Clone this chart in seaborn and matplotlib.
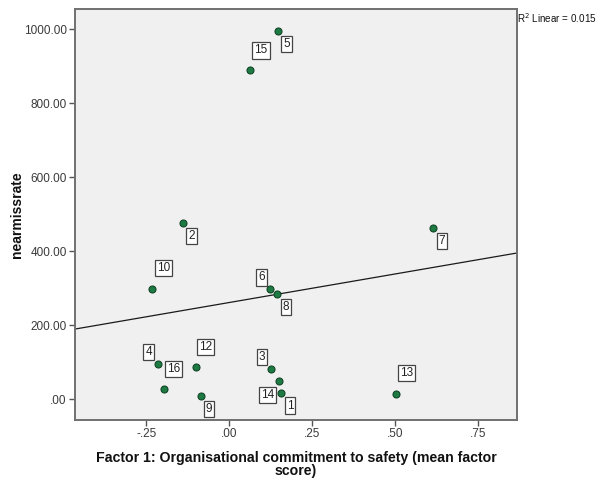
import numpy as np
import pandas as pd
import matplotlib
matplotlib.use("Agg")
import matplotlib.pyplot as plt
from matplotlib.path import Path
import seaborn as sns

# Case numbers, factor scores and near-miss rates
cases = [5, 15, 2, 7, 10, 6, 8, 4, 16, 12, 9, 3, 14, 1, 13]
factor1 = [0.145, 0.062, -0.141, 0.613, -0.232, 0.123, 0.144, -0.216,
           -0.198, -0.102, -0.086, 0.125, 0.150, 0.155, 0.501]
nearmiss = [995, 889, 476, 463, 298, 297, 285, 95,
            28, 88, 9, 82, 49, 18, 14]

# Where each case label sits relative to its point (pixels)
label_dx = [9, 11, 9, 9, 11, -9, 9, -9, 10, 10, 8, -9, -12, 9, 11]
label_dy = [-13, 20, -13, -13, 21, 12, -13, 12, 20, 20, -13, 12, -14, -13, 21]

df = pd.DataFrame({"case": cases, "factor1": factor1, "nearmissrate": nearmiss})


def label_box(x0, y0, width, height, mutation_size, padx=2.0, pady=2.2):
    """Square label frame with separate horizontal and vertical padding."""
    x0, y0 = x0 - padx, y0 - pady
    x1, y1 = x0 + width + 2 * padx, y0 + height + 2 * pady
    return Path([(x0, y0), (x1, y0), (x1, y1), (x0, y1), (x0, y0)],
                closed=True)


sns.set_theme(style="white")
plt.rcParams["font.family"] = ["Liberation Sans", "DejaVu Sans"]

fig = plt.figure(figsize=(5.99, 4.83), dpi=100)
ax = fig.add_axes([75 / 599, 1 - 420 / 483, 442 / 599, 411 / 483])
ax.set_facecolor("#f0f0f0")
ax.set_xlim(-0.465, 0.866)
ax.set_ylim(-56, 1055)

sns.regplot(data=df, x="factor1", y="nearmissrate", scatter=False, ci=None,
            truncate=False, ax=ax, line_kws={"color": "#1a1a1a", "lw": 0.9})
sns.scatterplot(data=df, x="factor1", y="nearmissrate", ax=ax, s=26,
                color="#1d7a42", edgecolor="#0d3d20", linewidth=0.7, zorder=3)

for c, x, y, dx, dy in zip(cases, factor1, nearmiss, label_dx, label_dy):
    ax.annotate(str(c), (x, y), xytext=(dx, dy), textcoords="offset pixels",
                ha="center", va="center", fontsize=8.5, color="#222222",
                bbox=dict(boxstyle=label_box, fc="white", ec="#444444", lw=0.9),
                zorder=4)

ax.set_xticks([-0.25, 0.0, 0.25, 0.5, 0.75])
ax.set_xticklabels(["-.25", ".00", ".25", ".50", ".75"])
ax.set_yticks([0, 200, 400, 600, 800, 1000])
ax.set_yticklabels([".00", "200.00", "400.00", "600.00", "800.00", "1000.00"])
ax.tick_params(axis="both", direction="out", length=4, width=1, color="#555555",
               labelsize=8.5, labelcolor="#3a3a3a", left=True, bottom=True, pad=2)

for sp in ax.spines.values():
    sp.set_color("#707070")
    sp.set_linewidth(1.4)

ax.set_xlabel("Factor 1: Organisational commitment to safety (mean factor\nscore)",
              fontsize=10.2, fontweight="bold", color="#111111", labelpad=8,
              linespacing=0.9)
ax.set_ylabel("nearmissrate", fontsize=10, fontweight="bold", color="#111111")
ax.yaxis.set_label_coords((24 - 75) / 442, 0.5)

fig.text(517 / 599, 1 - 18 / 483, "R$^2$ Linear = 0.015", fontsize=7.1,
         color="#111111", ha="left", va="center")

fig.savefig("out.png", dpi=100)
